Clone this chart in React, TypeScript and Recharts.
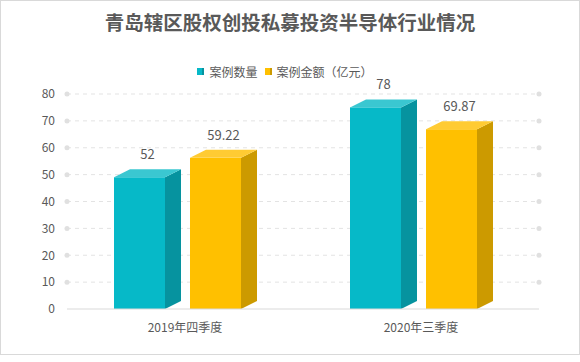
import React from "react";
import {
  BarChart,
  Bar,
  XAxis,
  YAxis,
  CartesianGrid,
  Legend,
  LabelList,
} from "recharts";

const quarters = ["2019年四季度", "2020年三季度"];
const caseCount = [52, 78];
const caseAmount = [59.22, 69.87];
const yTicks = [0, 10, 20, 30, 40, 50, 60, 70, 80];

const data = quarters.map((q, i) => ({
  quarter: q,
  count: caseCount[i],
  amount: caseAmount[i],
}));

const FONT = '"Noto Sans CJK SC", "Microsoft YaHei", sans-serif';
const TEXT = "#595959";
const DEPTH_X = 16;
const DEPTH_Y = 8;

const palette: Record<string, { front: string; side: string; top: string }> = {
  "#06B9C8": { front: "#06B9C8", side: "#06939F", top: "#3AC7D1" },
  "#FFC000": { front: "#FFC000", side: "#CC9A00", top: "#FFCB33" },
};

// 3D box: back edge of the top face sits on the value
const Box3D = (props: any) => {
  const { x, y, width, height, fill } = props;
  if (height == null || height <= 0) return null;
  const c = palette[fill] || { front: fill, side: fill, top: fill };
  const fw = width - DEPTH_X;
  const base = y + height;
  const ft = y + DEPTH_Y;
  return (
    <g>
      <rect x={x} y={ft} width={fw} height={base - ft} fill={c.front} />
      <polygon
        points={`${x + fw},${ft} ${x + fw + DEPTH_X},${y} ${x + fw + DEPTH_X},${base - DEPTH_Y} ${x + fw},${base}`}
        fill={c.side}
      />
      <polygon
        points={`${x},${ft} ${x + DEPTH_X},${y} ${x + fw + DEPTH_X},${y} ${x + fw},${ft}`}
        fill={c.top}
      />
    </g>
  );
};

const GridLine = (props: any) => {
  const { x1, x2, y1 } = props;
  if (Math.abs(y1 - 309) < 2) return null;
  return (
    <g>
      <line x1={x1} x2={x2} y1={y1} y2={y1} stroke="#e3e3e3" strokeDasharray="4 4" />
      <circle cx={x1} cy={y1} r={2.5} fill="#e0e0e0" />
      <circle cx={x2} cy={y1} r={2.5} fill="#e0e0e0" />
    </g>
  );
};

const ValueLabel = (props: any) => {
  const { x, y, width, value } = props;
  return (
    <text
      x={x + width / 2}
      y={y - 10}
      textAnchor="middle"
      fill={TEXT}
      fontSize={13}
      fontFamily={FONT}
    >
      {value}
    </text>
  );
};

const LegendContent = (props: any) => {
  const { payload } = props;
  return (
    <div
      style={{
        display: "flex",
        justifyContent: "center",
        gap: 7,
        fontFamily: FONT,
        fontSize: 12,
        color: TEXT,
        paddingRight: 10,
      }}
    >
      {(payload || []).map((p: any) => {
        const c = palette[p.color] || { front: p.color, side: p.color };
        return (
          <span key={p.value} style={{ display: "flex", alignItems: "center" }}>
            <span style={{ display: "inline-block", width: 5, height: 7, background: c.front }} />
            <span style={{ display: "inline-block", width: 2, height: 7, background: c.side, marginRight: 5 }} />
            {p.value}
          </span>
        );
      })}
    </div>
  );
};

export default function App() {
  return (
    <div
      style={{
        position: "absolute",
        left: 0,
        top: 0,
        width: 580,
        height: 362,
        background: "#fff",
      }}
    >
      <div
        style={{
          position: "absolute",
          left: 0,
          top: 0,
          width: 578,
          height: 353,
          border: "1px solid #d9d9d9",
        }}
      />
      <div
        style={{
          position: "absolute",
          top: 7,
          left: 0,
          width: 580,
          textAlign: "center",
          fontFamily: FONT,
          fontWeight: 700,
          fontSize: 19.5,
          color: TEXT,
          lineHeight: "30px",
        }}
      >
        青岛辖区股权创投私募投资半导体行业情况
      </div>
      <BarChart
        width={580}
        height={362}
        data={data}
        margin={{ top: 77, right: 41, bottom: 23, left: 10 }}
        barSize={67}
        barGap={9}
        style={{ position: "absolute", left: 0, top: 0 }}
      >
        <CartesianGrid vertical={false} horizontal={GridLine} />
        <XAxis
          dataKey="quarter"
          axisLine={{ stroke: "#d9d9d9" }}
          tickLine={false}
          height={30}
          tick={{ fill: TEXT, fontSize: 12, fontFamily: FONT }}
          tickMargin={8}
        />
        <YAxis
          domain={[0, 80]}
          ticks={yTicks}
          width={57}
          axisLine={false}
          tickLine={false}
          tick={{ fill: TEXT, fontSize: 12, fontFamily: FONT }}
          tickMargin={6}
        />
        <Legend
          verticalAlign="top"
          content={LegendContent}
          wrapperStyle={{ top: 63, left: 0, width: 580 }}
        />
        <Bar dataKey="count" name="案例数量" fill="#06B9C8" shape={Box3D} isAnimationActive={false}>
          <LabelList dataKey="count" content={ValueLabel} />
        </Bar>
        <Bar dataKey="amount" name="案例金额（亿元）" fill="#FFC000" shape={Box3D} isAnimationActive={false}>
          <LabelList dataKey="amount" content={ValueLabel} />
        </Bar>
      </BarChart>
    </div>
  );
}
